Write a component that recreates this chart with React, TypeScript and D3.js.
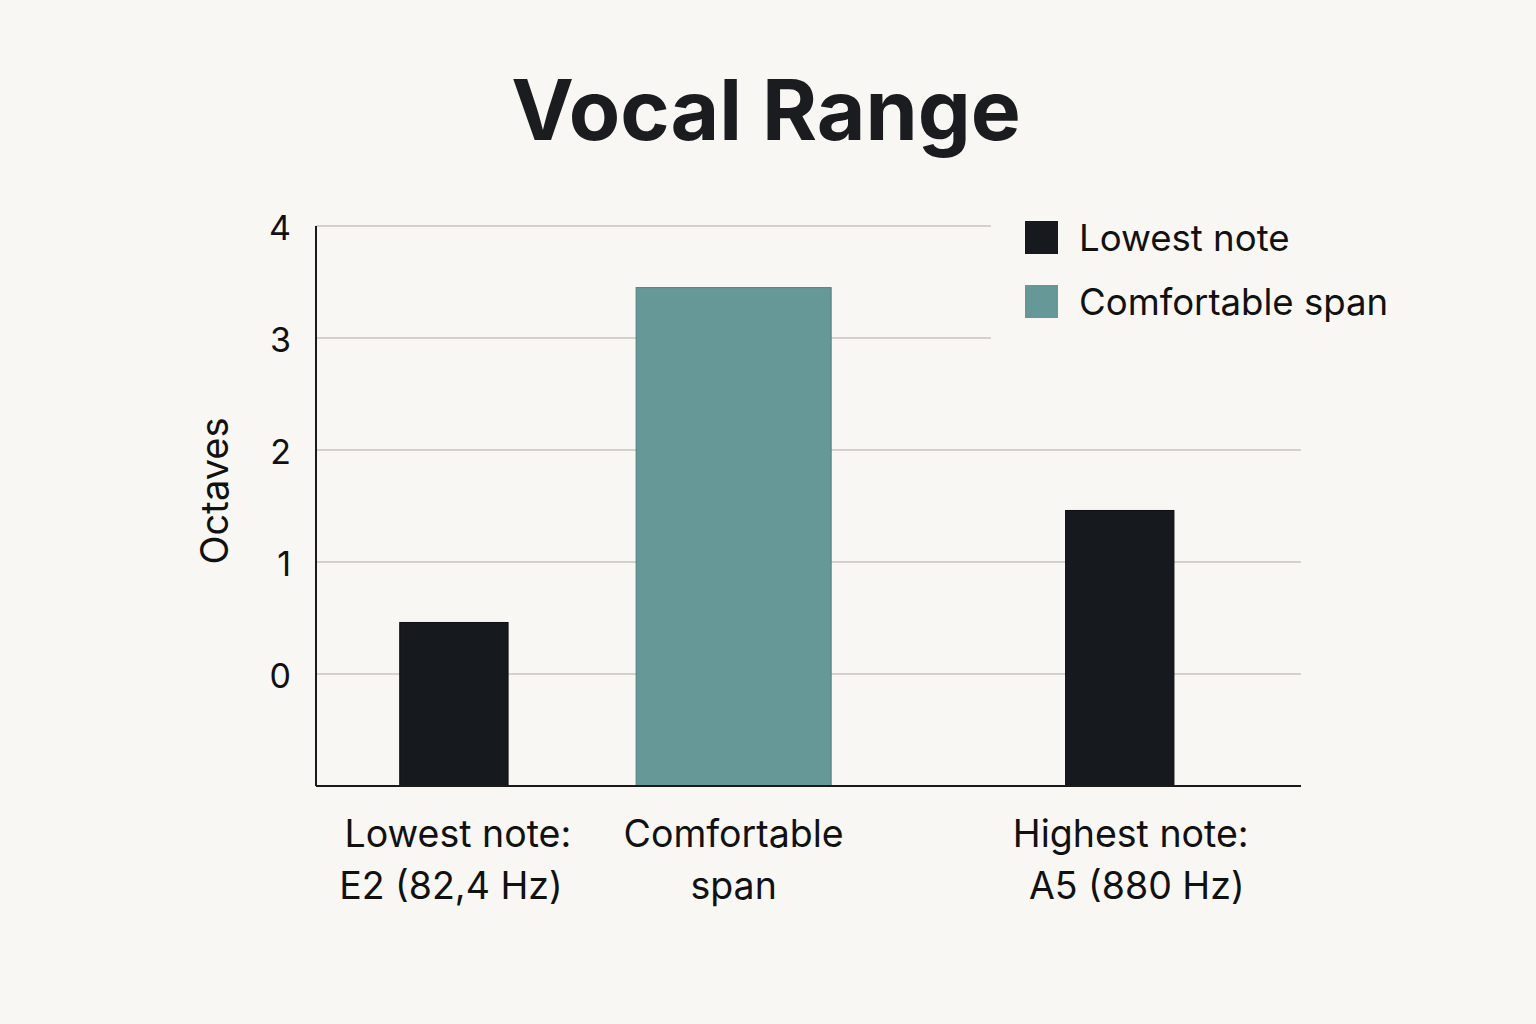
import React from "react";
import * as d3 from "d3";

const categories = ["Lowest note", "Comfortable span", "Highest note"];
const values = [0.46, 3.45, 1.46];
const seriesKeys = ["low", "span", "high"];
const labelLines = [
  ["Lowest note:", "E2 (82,4 Hz)"],
  ["Comfortable", "span"],
  ["Highest note:", "A5 (880 Hz)"],
];
const yTicks = [0, 1, 2, 3, 4];
const legendItems = ["Lowest note", "Comfortable span"];

const W = 1536;
const H = 1024;
const BG = "#f9f7f3";
const DARK = "#16191d";
const TEAL = "#659896";
const FONT = "Inter, 'Noto Sans', sans-serif";

const plot = { left: 316, right: 1301, top: 226, bottom: 786 };
const centerFrac = [0.14, 0.424, 0.816];
const widthFrac = [0.11, 0.198, 0.11];
const labelShift = [
  [4, -3],
  [0, 0],
  [11, 17],
];

export default function App() {
  const y = d3.scaleLinear().domain([-1, 4]).range([plot.bottom, plot.top]);
  const xFrac = d3.scaleLinear().domain([0, 1]).range([plot.left, plot.right]);
  const center = d3.scaleOrdinal<string, number>().domain(categories).range(centerFrac.map((f) => xFrac(f)));
  const bw = d3.scaleOrdinal<string, number>().domain(categories).range(widthFrac.map((f) => f * (plot.right - plot.left)));
  const color = d3.scaleOrdinal<string, string>().domain(seriesKeys).range([DARK, TEAL, DARK]);
  const stroke = d3.scaleOrdinal<string, string>().domain(seriesKeys).range(["#0d0f12", "#4f807e", "#0d0f12"]);
  const legendColor = d3.scaleOrdinal<string, string>().domain(legendItems).range([DARK, TEAL]);

  return (
    <div style={{ position: "absolute", left: 0, top: 0 }}>
      <svg width={W} height={H} style={{ display: "block" }}>
        <rect x={0} y={0} width={W} height={H} fill={BG} />
        <text x={766} y={140} textAnchor="middle" fontFamily={FONT} fontWeight={700} fontSize={84} fill="#1a1c1f">
          Vocal Range
        </text>
        {yTicks.map((t) => (
          <g key={t}>
            <line x1={plot.left} x2={plot.right} y1={y(t)} y2={y(t)} stroke="#c9c6c0" strokeWidth={1.5} />
            <text x={291} y={y(t)} dy="0.42em" textAnchor="end" fontFamily={FONT} fontSize={34} fill="#111">
              {t}
            </text>
          </g>
        ))}
        <text
          transform={`translate(228,${491}) rotate(-90)`}
          textAnchor="middle"
          fontFamily={FONT}
          fontSize={38}
          fill="#111"
        >
          Octaves
        </text>
        {categories.map((c, i) => (
          <rect
            key={c}
            x={center(c) - bw(c) / 2}
            y={y(values[i])}
            width={bw(c)}
            height={y(-1) - y(values[i])}
            fill={color(seriesKeys[i])}
            stroke={stroke(seriesKeys[i])}
            strokeWidth={1}
          />
        ))}
        <line x1={plot.left} x2={plot.left} y1={plot.top} y2={plot.bottom} stroke="#1a1a1a" strokeWidth={2} />
        <line x1={plot.left} x2={plot.right} y1={plot.bottom} y2={plot.bottom} stroke="#1a1a1a" strokeWidth={2} />
        {categories.map((c, i) => (
          <text key={c} textAnchor="middle" fontFamily={FONT} fontSize={37.5} fill="#111">
            {labelLines[i].map((l, j) => (
              <tspan key={j} x={center(c) + labelShift[i][j]} y={847 + j * 52}>
                {l}
              </tspan>
            ))}
          </text>
        ))}
        <rect x={991} y={212} width={320} height={134} fill={BG} />
        {legendItems.map((l, i) => (
          <g key={l} transform={`translate(1025,${221 + i * 64})`}>
            <rect width={33} height={33} fill={legendColor(l)} />
            <text x={54} y={30} fontFamily={FONT} fontSize={36.6} fill="#111">
              {l}
            </text>
          </g>
        ))}
      </svg>
    </div>
  );
}
